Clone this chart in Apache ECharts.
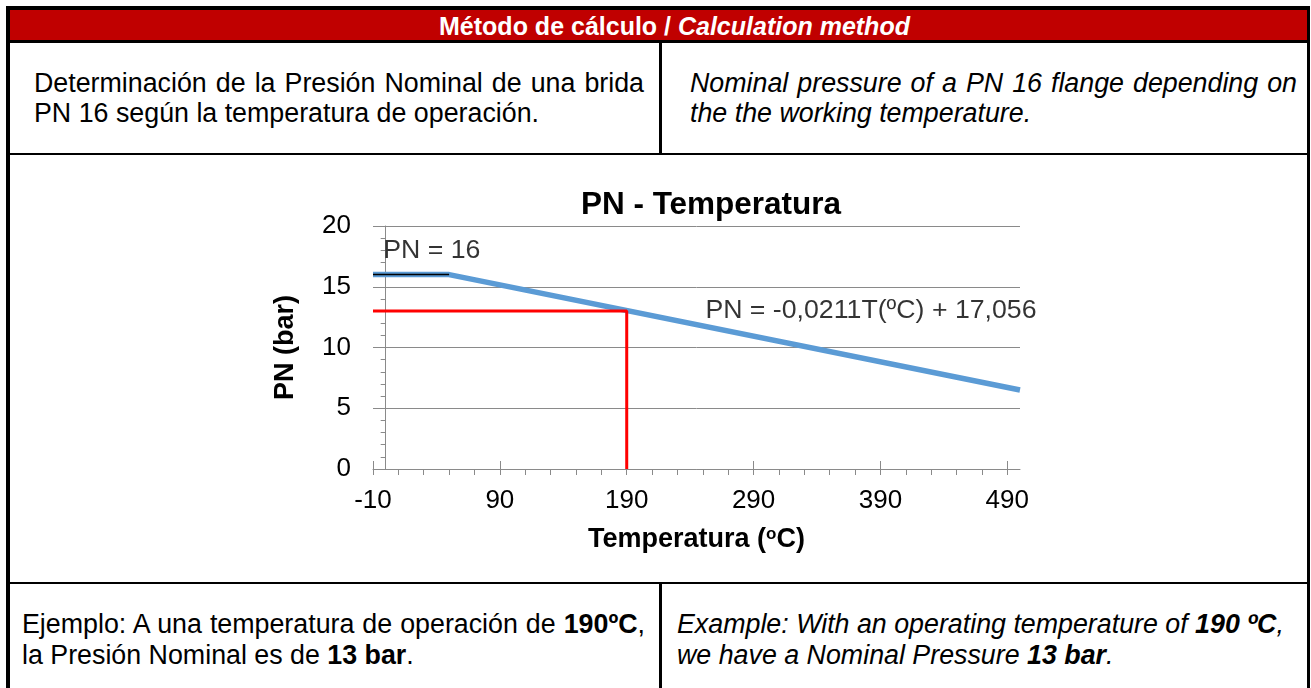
<!DOCTYPE html>
<html>
<head>
<meta charset="utf-8">
<script src="https://cdn.jsdelivr.net/npm/echarts@6/dist/echarts.min.js"></script>
<style>
  html, body { margin: 0; padding: 0; background: #ffffff; width: 1311px; height: 688px; overflow: hidden; }
  body { position: relative; font-family: "Liberation Sans", Arial, sans-serif; color: #000; }
  .blk { position: absolute; background: #000; }
  .txt { position: absolute; font-size: 26.8px; line-height: 30px; white-space: nowrap; }
  .just { text-align: justify; text-align-last: justify; }
  #chart { position: absolute; left: 0; top: 0; width: 1311px; height: 688px; z-index: 5; }
</style>
</head>
<body>
<!-- table frame -->
<div style="position:absolute;left:10px;top:10px;width:1297px;height:30px;background:#C00000;"></div>
<div class="blk" style="left:6px;top:6px;width:1304px;height:4px;"></div>
<div class="blk" style="left:6px;top:6px;width:4px;height:682px;"></div>
<div class="blk" style="left:1307px;top:6px;width:3px;height:682px;"></div>
<div class="blk" style="left:6px;top:40px;width:1304px;height:3px;"></div>
<div class="blk" style="left:6px;top:153px;width:1304px;height:2px;"></div>
<div class="blk" style="left:6px;top:582px;width:1304px;height:2px;"></div>
<div class="blk" style="left:659px;top:43px;width:3px;height:110px;"></div>
<div class="blk" style="left:659px;top:584px;width:3px;height:104px;"></div>

<!-- header -->
<div class="txt" style="left:10px;top:11px;width:1297px;line-height:30px;text-align:center;color:#fff;font-weight:bold;font-size:25px;padding-left:32px;box-sizing:border-box;">Método de cálculo / <i>Calculation method</i></div>

<!-- row 1 -->
<div class="txt just" style="left:34px;top:68px;width:610px;">Determinación de la Presión Nominal de una brida</div>
<div class="txt" style="left:34px;top:98px;">PN 16 según la temperatura de operación.</div>
<div class="txt just" style="left:690px;top:68px;width:607px;font-style:italic;">Nominal pressure of a PN 16 flange depending on</div>
<div class="txt" style="left:690px;top:98px;font-style:italic;">the the working temperature.</div>

<!-- bottom row -->
<div class="txt just" style="left:22px;top:609px;width:623px;">Ejemplo: A una temperatura de operación de <b>190ºC</b>,</div>
<div class="txt" style="left:22px;top:640px;">la Presión Nominal es de <b>13 bar</b>.</div>
<div class="txt just" style="left:677px;top:609px;width:604px;font-style:italic;">Example: With an operating temperature of <b>190 ºC</b>,</div>
<div class="txt" style="left:677px;top:640px;font-style:italic;">we have a Nominal Pressure <b>13 bar</b>.</div>

<div id="chart"></div>
<script>
// ---- data ----
const chartTitle = 'PN - Temperatura';
const yAxisTitle = 'PN (bar)';
const xAxisTitleMain = 'Temperatura (';
const xAxisTitleSup = 'o';
const xAxisTitleEnd = 'C)';
const xTickLabels = [-10, 90, 190, 290, 390, 490];
const xMinorTicks = [-10, 10, 30, 50, 70, 90, 110, 130, 150, 170, 190, 210, 230, 250, 270, 290, 310, 330, 350, 370, 390, 410, 430, 450, 470, 490];
const xMin = -10, xMax = 500;
const yMin = 0, yMax = 20, yStep = 5;
// PN curve (PN = -0,0211 T + 17,056, capped at 16)
const pnCurveT = [-10, 50, 500];
const pnCurveValues = [16, 16, 6.5];
// PN = 16 flat segment
const pn16T = [-10, 50];
const pn16Values = [16, 16];
// example at 190 ºC -> 13 bar
const exampleT = [-10, 190, 190];
const exampleValues = [13, 13, 0];
// annotations
const annotationTexts = ['PN = 16', 'PN = -0,0211T(ºC) + 17,056'];
const annotationT = [-2, 252];
const annotationValues = [18.0, 13.0];

const zip = (a, b) => a.map((v, i) => [v, b[i]]);
const FONT = '"Liberation Sans", Arial, sans-serif';
const GRID_COLOR = '#8a8a8a';

const chart = echarts.init(document.getElementById('chart'), null, { renderer: 'canvas' });
chart.setOption({
  backgroundColor: 'transparent',
  animation: false,
  title: {
    text: chartTitle,
    left: 706,
    top: 184,
    textAlign: 'center',
    textStyle: { fontFamily: FONT, fontSize: 31.5, fontWeight: 'bold', color: '#000' }
  },
  grid: { left: 373, right: 291, top: 226, bottom: 219 },
  xAxis: [
    {
      type: 'value', min: xMin, max: xMax,
      name: '{m|' + xAxisTitleMain + '}{s|' + xAxisTitleSup + '}{m|' + xAxisTitleEnd + '}',
      nameLocation: 'middle', nameGap: 57,
      nameTextStyle: {
        rich: {
          m: { fontFamily: FONT, fontSize: 27, fontWeight: 'bold', color: '#000' },
          s: { fontFamily: FONT, fontSize: 17, fontWeight: 'bold', color: '#000', verticalAlign: 'top', padding: [0, 0, 10, 0] }
        }
      },
      axisLine: { show: true, onZero: false, lineStyle: { color: GRID_COLOR, width: 1 } },
      axisTick: { show: true, inside: false, length: 6, customValues: xMinorTicks, lineStyle: { color: GRID_COLOR } },
      axisLabel: { show: true, customValues: xTickLabels, margin: 19, fontFamily: FONT, fontSize: 26, color: '#000' },
      splitLine: { show: false }
    },
    {
      type: 'value', min: xMin, max: xMax, position: 'bottom',
      axisLine: { show: false },
      axisTick: { show: true, inside: true, length: 8, customValues: xTickLabels, lineStyle: { color: GRID_COLOR } },
      axisLabel: { show: false },
      splitLine: { show: false }
    }
  ],
  yAxis: {
    type: 'value', min: yMin, max: yMax, interval: yStep,
    name: yAxisTitle, nameLocation: 'middle', nameGap: 74, nameRotate: 90,
    nameTextStyle: { fontFamily: FONT, fontSize: 27, fontWeight: 'bold', color: '#000' },
    axisLine: { show: true, lineStyle: { color: GRID_COLOR, width: 1 } },
    axisTick: { show: true, length: 5, lineStyle: { color: GRID_COLOR } },
    minorTick: { show: true, splitNumber: 5, length: 5, lineStyle: { color: GRID_COLOR } },
    axisLabel: { margin: 22, fontFamily: FONT, fontSize: 26, color: '#000' },
    splitLine: { show: true, lineStyle: { color: GRID_COLOR, width: 1 } }
  },
  series: [
    {
      type: 'line', data: zip(pnCurveT, pnCurveValues), showSymbol: false, symbol: 'none',
      lineStyle: { color: '#5B9BD5', width: 5.5 }, z: 2
    },
    {
      type: 'line', data: zip(pn16T, pn16Values), showSymbol: false, symbol: 'none',
      lineStyle: { color: '#000000', width: 1.5 }, z: 3
    },
    {
      type: 'line', data: zip(exampleT, exampleValues), showSymbol: false, symbol: 'none',
      lineStyle: { color: '#FF0000', width: 3 }, z: 4, clip: false
    },
    {
      type: 'scatter', symbolSize: 0, z: 5,
      data: annotationT.map((t, i) => ({ value: [t, annotationValues[i]], name: annotationTexts[i] })),
      label: {
        show: true, position: 'right', distance: 0,
        formatter: p => p.name,
        fontFamily: FONT, fontSize: 26.7, color: '#000'
      }
    }
  ]
});
</script>
</body>
</html>
